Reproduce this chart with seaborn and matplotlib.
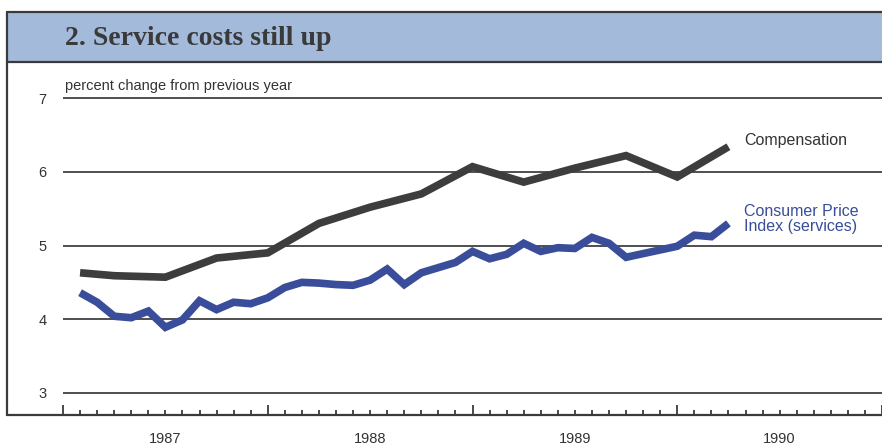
import matplotlib
matplotlib.use("Agg")
import matplotlib.pyplot as plt
from matplotlib.lines import Line2D
from matplotlib.patches import Rectangle
import numpy as np
import pandas as pd
import seaborn as sns

# x positions are months since January 1987
cpi_months = [1, 2, 3, 4, 5, 6, 7, 8, 9, 10, 11, 12,
              13, 14, 15, 16, 17, 18, 19, 20, 21, 22, 23, 24,
              25, 26, 27, 28, 29, 30, 31, 32, 33, 34, 35, 36,
              37, 38, 39]
cpi_values = [4.36, 4.23, 4.04, 4.02, 4.11, 3.89, 3.99, 4.25, 4.13, 4.23, 4.21, 4.29,
              4.43, 4.50, 4.49, 4.47, 4.46, 4.53, 4.68, 4.47, 4.63, 4.70, 4.77, 4.92,
              4.82, 4.88, 5.03, 4.92, 4.97, 4.96, 5.11, 5.03, 4.84, 4.89, 4.94, 4.99,
              5.14, 5.12, 5.30]
comp_months = [1, 3, 6, 9, 12, 15, 18, 21, 24, 27, 30, 33, 36, 39]
comp_values = [4.63, 4.59, 4.57, 4.83, 4.90, 5.30, 5.52, 5.70, 6.07, 5.86, 6.05, 6.22, 5.93, 6.34]

years = ["1987", "1988", "1989", "1990"]
y_ticks = [3, 4, 5, 6, 7]

comp_color = "#3d3d3d"
cpi_color = "#3a4d9a"
grid_color = "#4f4f4f"

sns.set_style("white")
plt.rcParams["font.family"] = ["Liberation Sans", "DejaVu Sans"]

df = pd.concat([
    pd.DataFrame({"month": comp_months, "value": comp_values}).assign(series="Compensation"),
    pd.DataFrame({"month": cpi_months, "value": cpi_values}).assign(series="CPI"),
])

W, H = 882, 447
fig = plt.figure(figsize=(W / 100, H / 100), dpi=100)
fig.patch.set_facecolor("white")

# title banner and frame
fig.add_artist(Rectangle((7 / W, 1 - 62 / H), (W - 7) / W, 50 / H, transform=fig.transFigure,
                         facecolor="#a4badb", edgecolor="none", zorder=0))
for xs, ys in [([7, W], [12, 12]), ([7, W], [62, 62]), ([7, 7], [12, 415]), ([7, W], [415, 415])]:
    fig.add_artist(Line2D([x / W for x in xs], [1 - y / H for y in ys], transform=fig.transFigure,
                          color="#3a3a3a", lw=1.6, zorder=3))
fig.text(65 / W, 1 - 45 / H, "2. Service costs still up", family=["Liberation Serif", "DejaVu Serif"],
         weight="bold", size=20, color="#3a3a3a", va="baseline")

ax = fig.add_axes([63 / W, 32 / H, (W - 63) / W, 339 / H])
sns.lineplot(data=df, x="month", y="value", hue="series",
             palette={"Compensation": comp_color, "CPI": cpi_color},
             lw=5.5, legend=False, ax=ax, solid_capstyle="butt", solid_joinstyle="miter")

ax.set_xlim(0, (W - 63) / 17.25)
ax.set_ylim(2.70, 7.3)
for s in ax.spines.values():
    s.set_visible(False)
ax.set_facecolor("none")

ax.set_yticks(y_ticks)
ax.yaxis.grid(True, color=grid_color, lw=1.4)
ax.set_axisbelow(True)
ax.tick_params(axis="y", left=False, length=0, pad=12, labelsize=10.5, labelcolor="#333333")

ax.set_xticks([0, 12, 24, 36, 48])
ax.set_xticks(np.arange(0, 48), minor=True)
ax.tick_params(axis="x", which="both", bottom=True, direction="in", labelbottom=False,
               color="#3a3a3a", width=1.3)
ax.tick_params(axis="x", which="major", length=7.5)
ax.tick_params(axis="x", which="minor", length=3.5)
ax.set_xlabel("")
ax.set_ylabel("")

for i, yr in enumerate(years):
    ax.text(6 + 12 * i, -24 / 339, yr, transform=ax.get_xaxis_transform(),
            ha="center", va="center", size=10.5, color="#333333")

fig.text(65 / W, 1 - 86 / H, "percent change from previous year", size=10.5, color="#333333", va="center")
ax.text(39.94, 6.43, "Compensation", size=11.5, color="#333333", va="center")
ax.text(39.94, 5.36, "Consumer Price\nIndex (services)", size=11.5, color=cpi_color, va="center",
        linespacing=1.0)

fig.savefig("out.png", dpi=100)
